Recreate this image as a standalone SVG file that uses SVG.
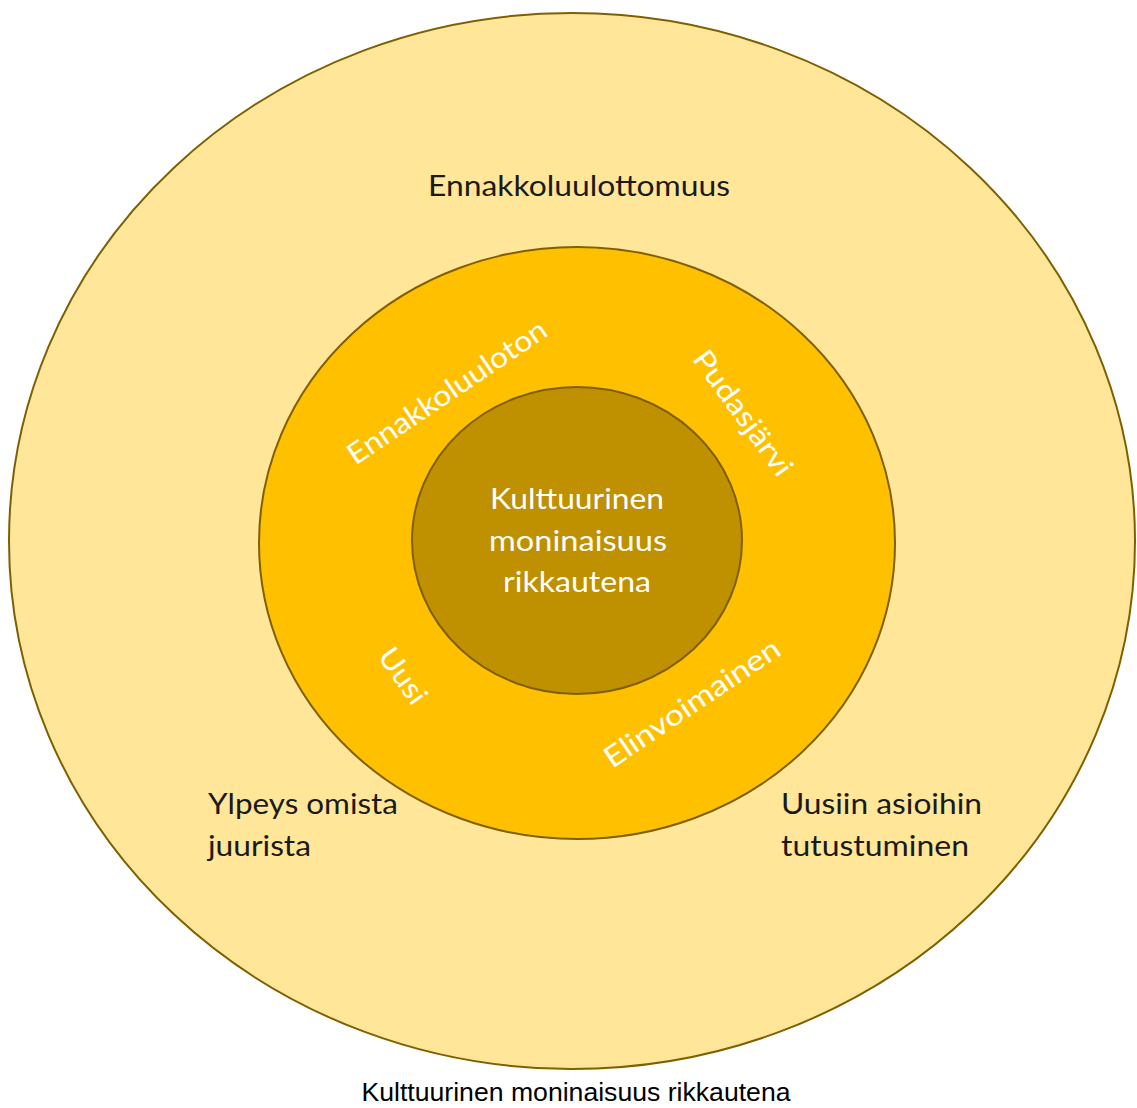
<svg xmlns="http://www.w3.org/2000/svg" width="1137" height="1108" viewBox="0 0 1137 1108">
<style>
.ring{stroke:#7F6000;stroke-width:2}
.lbl{font-family:Lato,"Open Sans","Liberation Sans",sans-serif;font-size:29px}
.dark{fill:#1a1a1a}
.white{fill:#ffffff}
.cap{font-family:"Liberation Sans",Arial,sans-serif;font-size:25px;fill:#000}
</style>
<rect width="1137" height="1108" fill="#ffffff"/>
<g id="outer">
<ellipse class="ring" cx="572" cy="541" rx="563" ry="528" fill="#FFE699"/>
<text class="lbl dark" x="428" y="196" textLength="302" lengthAdjust="spacingAndGlyphs">Ennakkoluulottomuus</text>
<text class="lbl dark" x="208" y="814" textLength="190" lengthAdjust="spacingAndGlyphs">Ylpeys omista</text>
<text class="lbl dark" x="208" y="856" textLength="103" lengthAdjust="spacingAndGlyphs">juurista</text>
<text class="lbl dark" x="781" y="814" textLength="201" lengthAdjust="spacingAndGlyphs">Uusiin asioihin</text>
<text class="lbl dark" x="781" y="856" textLength="188" lengthAdjust="spacingAndGlyphs">tutustuminen</text>
</g>
<g id="middle">
<ellipse class="ring" cx="577" cy="543" rx="318" ry="296" fill="#FFC000"/>
<g transform="translate(447,392) rotate(-34)"><text class="lbl white" x="-117" y="10" textLength="234" lengthAdjust="spacingAndGlyphs">Ennakkoluuloton</text></g>
<g transform="translate(743,413) rotate(54)"><text class="lbl white" x="-74" y="10" textLength="148" lengthAdjust="spacingAndGlyphs">Pudasjärvi</text></g>
<g transform="translate(403,676) rotate(55)"><text class="lbl white" x="-31" y="10" textLength="62" lengthAdjust="spacingAndGlyphs">Uusi</text></g>
<g transform="translate(692,703) rotate(-34)"><text class="lbl white" x="-103" y="10" textLength="206" lengthAdjust="spacingAndGlyphs">Elinvoimainen</text></g>
</g>
<g id="inner">
<ellipse class="ring" cx="577" cy="540.5" rx="165" ry="153.5" fill="#BF9000"/>
<text class="lbl white" x="490" y="509" textLength="174" lengthAdjust="spacingAndGlyphs">Kulttuurinen</text>
<text class="lbl white" x="489" y="551" textLength="178" lengthAdjust="spacingAndGlyphs">moninaisuus</text>
<text class="lbl white" x="503" y="592" textLength="148" lengthAdjust="spacingAndGlyphs">rikkautena</text>
</g>
<g id="connectors"/>
<text class="cap" x="576" y="1101" text-anchor="middle" textLength="429" lengthAdjust="spacingAndGlyphs">Kulttuurinen moninaisuus rikkautena</text>
</svg>
